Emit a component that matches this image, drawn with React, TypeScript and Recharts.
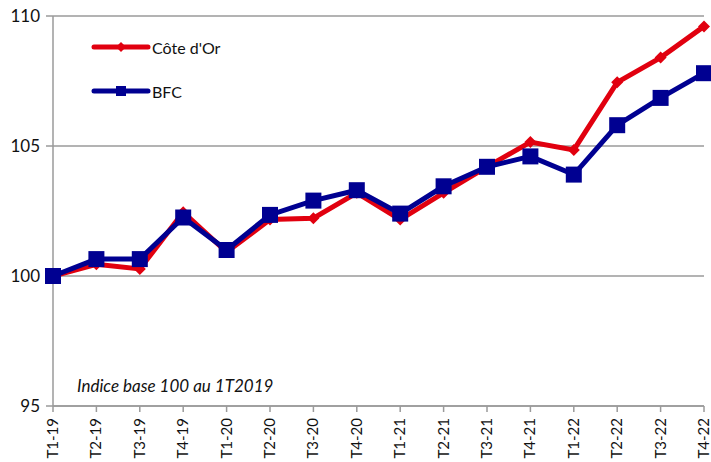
import { LineChart, Line, XAxis, YAxis, CartesianGrid } from "recharts"

const quarters = [
  "T1-19", "T2-19", "T3-19", "T4-19",
  "T1-20", "T2-20", "T3-20", "T4-20",
  "T1-21", "T2-21", "T3-21", "T4-21",
  "T1-22", "T2-22", "T3-22", "T4-22",
]

const coteDor = [100, 100.45, 100.27, 102.45, 100.92, 102.17, 102.22, 103.2, 102.17, 103.2, 104.2, 105.15, 104.85, 107.45, 108.4, 109.6]
const bfc = [100, 100.65, 100.65, 102.25, 101.0, 102.35, 102.9, 103.3, 102.4, 103.45, 104.2, 104.6, 103.9, 105.8, 106.85, 107.8]

const yTicks = [95, 100, 105, 110]

const RED = "#e1000f"
const BLUE = "#000091"
const GREY = "#9a9a9a"
const FONT = "Lato, 'Open Sans', sans-serif"

const data = quarters.map((q, i) => ({ q, cote: coteDor[i], bfc: bfc[i] }))

function Diamond(props: any) {
  const { cx, cy } = props
  if (cx == null || cy == null) return null
  const r = 6
  return <polygon points={`${cx},${cy - r} ${cx + r},${cy} ${cx},${cy + r} ${cx - r},${cy}`} fill={RED} />
}

function Square(props: any) {
  const { cx, cy } = props
  if (cx == null || cy == null) return null
  return <rect x={cx - 8} y={cy - 8} width={16} height={16} fill={BLUE} />
}

function XTick(props: any) {
  const { x, y, payload } = props
  return (
    <text
      x={x}
      y={y}
      transform={`rotate(-90, ${x}, ${y})`}
      textAnchor="end"
      dx={-4}
      dy={5}
      fontSize={15}
      fill="#111"
      fontFamily={FONT}
    >
      {payload.value}
    </text>
  )
}

function LegendBox() {
  const items = [
    { label: "Côte d'Or", color: RED, marker: "diamond" },
    { label: "BFC", color: BLUE, marker: "square" },
  ]
  return (
    <div style={{ position: "absolute", left: 91, top: 25, fontFamily: FONT, fontSize: 16, color: "#111" }}>
      {items.map((it) => (
        <div key={it.label} style={{ display: "flex", alignItems: "center", height: 44 }}>
          <svg width={60} height={16} style={{ marginRight: 1 }}>
            <line x1={3} y1={8} x2={57} y2={8} stroke={it.color} strokeWidth={5} strokeLinecap="round" />
            {it.marker === "diamond" ? (
              <polygon points="30,3 35,8 30,13 25,8" fill={it.color} />
            ) : (
              <rect x={25} y={3} width={10} height={10} fill={it.color} />
            )}
          </svg>
          <span>{it.label}</span>
        </div>
      ))}
    </div>
  )
}

export default function App() {
  return (
    <div style={{ position: "absolute", left: 0, top: 0, width: 711, height: 462, background: "#fff" }}>
      <LineChart width={711} height={462} data={data} margin={{ top: 16, right: 7, left: 0, bottom: 0 }}>
        <CartesianGrid vertical={false} stroke={GREY} strokeWidth={1.5} />
        <XAxis
          dataKey="q"
          height={56}
          interval={0}
          stroke={GREY}
          strokeWidth={1.5}
          tickSize={6}
          tick={<XTick />}
        />
        <YAxis
          width={53}
          domain={[95, 110]}
          ticks={yTicks}
          interval={0}
          stroke={GREY}
          strokeWidth={1.5}
          tickSize={7}
          tickMargin={6}
          tick={{ fontSize: 17, fill: "#111", fontFamily: FONT }}
        />
        <Line
          type="linear"
          dataKey="cote"
          name="Côte d'Or"
          stroke={RED}
          strokeWidth={5}
          dot={<Diamond />}
          activeDot={false}
          isAnimationActive={false}
        />
        <Line
          type="linear"
          dataKey="bfc"
          name="BFC"
          stroke={BLUE}
          strokeWidth={5}
          dot={<Square />}
          activeDot={false}
          isAnimationActive={false}
        />
      </LineChart>
      <LegendBox />
      <div
        style={{
          position: "absolute",
          left: 77,
          top: 375,
          fontFamily: FONT,
          fontStyle: "italic",
          fontSize: 17,
          color: "#111",
        }}
      >
        Indice base 100 au 1T2019
      </div>
    </div>
  )
}
